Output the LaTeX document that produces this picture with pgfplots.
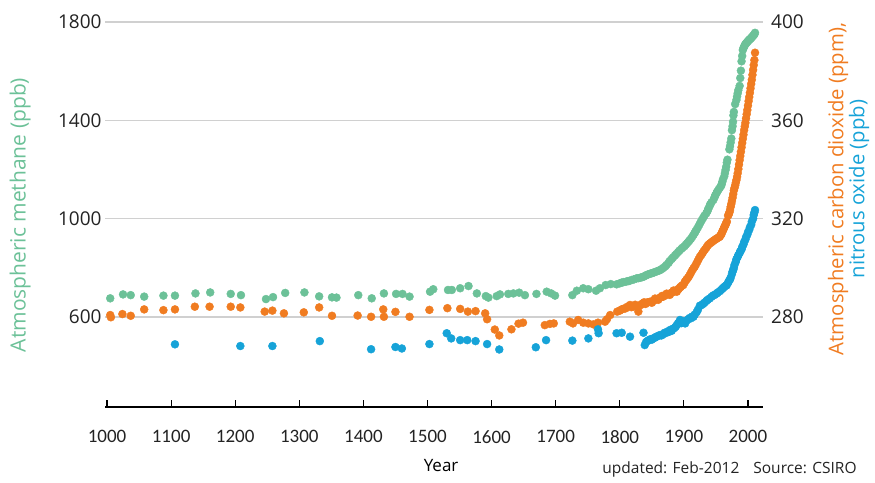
\documentclass[border=0pt]{standalone}
\usepackage{pgfplots}
\pgfplotsset{compat=1.18}
\usepackage{pgfplotstable}
\usepackage{fontspec}
\setmainfont{Open Sans}
\newfontfamily\tickfont{Carlito}

\definecolor{ch4}{RGB}{108,193,152}
\definecolor{co2}{RGB}{240,124,33}
\definecolor{n2o}{RGB}{22,163,216}
\definecolor{gridgray}{RGB}{208,208,208}
\definecolor{txt}{RGB}{35,35,35}

% Methane (ppb), left scale
\pgfplotstableread{
year val
1005 676
1025 692
1037 689
1058 683
1088 687
1106 687
1138 696
1161 700
1193 694
1209 689
1248 673
1259 681
1278 698
1308 700
1331 684
1351 680
1358 679
1392 689
1413 676
1432 696
1451 694
1461 694
1472 683
1504 703
1509 713
1532 710
1538 710
1551 717
1564 726
1577 696
1591 685
1595 679
1608 685
1613 692
1626 694
1634 696
1643 699
1652 689
1670 694
1686 703
1693 696
1699 687
1726 689
1733 707
1743 717
1751 713
1763 707
1769 717
1778 730
1786 734
1795 733
1800 737
1803 740
1806 742
1810 744
1813 746
1815 747
1819 751
1822 753
1826 757
1829 758
1832 760
1835 762
1837 764
1840 768
1842 771
1845 774
1847 776
1850 778
1852 780
1855 783
1858 786
1861 789
1863 791
1866 796
1868 800
1871 806
1873 812
1876 820
1878 828
1881 836
1883 842
1886 850
1888 856
1891 864
1893 870
1896 877
1898 882
1901 888
1903 894
1905 900
1907 906
1909 912
1911 918
1913 926
1915 934
1917 942
1918 948
1920 956
1922 965
1924 975
1926 985
1928 994
1930 1003
1932 1012
1935 1022
1937 1032
1938 1040
1940 1050
1941 1058
1943 1066
1946 1076
1948 1088
1949 1095
1951 1104
1952 1110
1954 1118
1956 1125
1958 1133
1959 1140
1960 1150
1961 1160
1963 1172
1964 1185
1965 1198
1966 1211
1967 1228
1968 1240
1971 1282
1972 1295
1973 1310
1974 1326
1975 1360
1976 1376
1976.7 1394
1977.3 1420
1978 1434
1980 1466
1982 1483
1983 1497
1984 1510
1985 1523
1987 1540
1988 1572
1989 1602
1990 1640
1991 1662
1992 1686
1993 1694
1994 1700
1995 1705
1996 1710
1997 1713
1998 1716
1999 1719
2000 1722
2001 1725
2002 1728
2003 1730
2004 1732
2005 1735
2006 1738
2007 1741
2008 1744
2009 1747
2010 1750
2011 1756
}\methane

% Carbon dioxide (ppm), right scale
\pgfplotstableread{
year val
1005 280.8
1006 279.9
1024 281.2
1037 280.5
1058 283.1
1088 282.8
1106 283.1
1137 284.2
1160 284.2
1193 284.2
1208 283.9
1246 282.2
1258 282.6
1276 281.5
1307 281.9
1331 283.9
1351 280.5
1391 280.6
1412 280.1
1431 283.1
1432 280.1
1450 282.1
1472 280.1
1503 282.9
1531 283.6
1551 283.3
1563 282.2
1575 282.4
1590 281.5
1593 279.1
1605 274.9
1612 272.5
1631 275.0
1642 277.3
1649 277.7
1683 276.7
1691 277.2
1697 277.4
1722 278.1
1727 277.4
1735 278.8
1743 277.7
1751 277.4
1759 277.0
1766 277.7
1777 278.1
1780 279.1
1785 280.8
1796 282.2
1800 282.6
1803 283.1
1806 283.4
1809 283.5
1812 284.2
1816 284.9
1818 284.0
1821 284.2
1824 285.0
1826 284.5
1829 282.2
1832 284.8
1834 285.2
1836 285.6
1838 286.0
1840 285.3
1842 285.8
1844 286.0
1847 286.2
1850 285.8
1852 286.5
1853 286.8
1855 287.5
1857 287.2
1860 287.0
1862 287.8
1864 288.0
1866 288.6
1868 288.3
1871 288.8
1873 289.5
1875 289.3
1878 289.0
1880 289.8
1882 290.0
1884 290.8
1886 290.5
1889 290.3
1891 291.2
1892 291.5
1894 292.0
1895 292.3
1897 292.8
1899 293.0
1901 294.0
1902 294.5
1904 295.2
1905 295.5
1907 296.2
1909 297.0
1911 298.0
1913 299.0
1915 299.8
1917 300.5
1919 301.5
1921 302.5
1923 303.5
1925 304.5
1927 305.2
1929 306.0
1931 306.8
1933 307.5
1935 308.2
1937 309.0
1939 309.6
1941 310.0
1943 310.4
1945 310.8
1947 311.2
1949 311.5
1951 311.9
1953 312.2
1955 312.5
1956 312.7
1957 313.2
1958 313.5
1959 314.0
1960 314.8
1961 315.2
1962 315.8
1963 316.5
1964 317.0
1965 317.5
1966 318.2
1967 318.8
1969 321.2
1970 321.8
1971 322.5
1972 323.5
1973 324.8
1974 326.0
1975 327.2
1976 328.5
1977 330.0
1978 331.5
1979 332.5
1980 333.5
1981 334.6
1982 335.7
1983 337.0
1984 338.5
1985 340.2
1986 342.0
1987 343.8
1988 345.5
1989 347.2
1990 349.0
1991 350.8
1992 352.5
1993 354.2
1994 356.0
1995 357.5
1996 359.0
1997 360.8
1998 362.5
1999 364.2
2000 366.0
2001 367.8
2002 369.5
2003 371.2
2004 373.0
2005 374.8
2006 376.5
2007 378.5
2008 380.5
2009 382.5
2010 384.5
2011 387.5
}\carbon

% Nitrous oxide (ppb), right scale
\pgfplotstableread{
year val
1106 268.9
1208 268.2
1258 268.2
1332 270.2
1412 266.9
1450 267.8
1460 267.2
1503 269.0
1530 273.4
1537 271.3
1551 270.6
1562 270.6
1575 270.2
1593 269.0
1612 266.8
1669 267.7
1685 270.6
1726 270.4
1751 271.3
1766 275.0
1767 273.4
1795 273.4
1803 273.6
1816 272.0
1837 273.6
1839 268.6
1841 269.8
1843 270.2
1845 270.6
1848 271.0
1850 270.8
1852 271.3
1855 271.6
1857 272.0
1860 272.3
1863 272.7
1865 272.5
1868 273.0
1870 273.6
1873 273.6
1875 274.2
1877 274.0
1879 274.8
1881 274.4
1883 275.2
1885 275.5
1887 276.0
1889 276.7
1891 277.5
1894 278.8
1896 277.5
1898 277.8
1900 278.2
1902 277.4
1904 278.5
1907 279.1
1909 279.6
1911 279.5
1913 280.2
1915 280.1
1917 281.0
1920 282.0
1922 283.0
1925 284.6
1927 284.8
1930 285.3
1932 285.8
1935 286.5
1937 287.0
1940 287.5
1943 288.2
1946 288.8
1948 289.0
1951 289.5
1953 290.0
1956 290.5
1958 291.0
1960 291.5
1962 292.0
1964 292.5
1966 292.8
1967 293.0
1969 294.0
1970 294.5
1972 295.3
1973 296.0
1975 297.5
1976 298.5
1977 299.2
1978 300.0
1979 301.2
1981 302.5
1982 303.5
1984 304.5
1985 305.2
1987 306.0
1988 306.8
1990 307.5
1991 308.5
1993 309.5
1994 310.5
1996 311.5
1997 312.5
1999 313.5
2000 314.5
2002 315.5
2003 316.5
2005 317.5
2006 318.8
2008 320.0
2009 321.5
2010 322.5
2011 323.5
}\nitrous

\pgfplotsset{
  gasframe/.style={
    at={(0,0)}, anchor=south west,
    scale only axis, width=657.6pt, height=385pt,
    xmin=997, xmax=2023,
    /pgf/number format/assume math mode=true,
    /pgf/number format/1000 sep={},
    yticklabel style={font=\fontsize{19}{19}\selectfont, text=txt},
  },
  dots/.style={only marks, mark=*, mark size=4pt, color=#1, fill=#1},
}

\begin{document}
\begin{tikzpicture}
\begin{axis}[
  gasframe,
  ymin=234, ymax=1800,
  axis x line=bottom, axis y line=left,
  x axis line style={-, black, line width=1.4pt},
  y axis line style={draw=none},
  xtick={1000,1100,...,2000},
  ytick={600,1000,1400,1800},
  xtick style={black, line width=1.2pt},
  ytick style={draw=none},
  major tick length=7pt, tick align=inside,
  ymajorgrids, grid style={gridgray, line width=1.3pt},
  xticklabel style={font=\tickfont\fontsize{19}{19}\selectfont, text=txt, yshift=-20pt},
  clip=false,
]
\addplot[dots=ch4] table[x=year, y=val] {\methane};
\end{axis}

\begin{axis}[
  gasframe,
  ymin=243.4, ymax=400,
  hide x axis,
  axis y line*=right,
  y axis line style={draw=none},
  ytick={280,320,360,400},
  ytick style={draw=none},
  yticklabel style={xshift=5pt},
  clip=false,
]
\addplot[dots=co2] table[x=year, y=val] {\carbon};
\addplot[dots=n2o] table[x=year, y=val] {\nitrous};
\end{axis}

\node[rotate=90, text=ch4, font=\fontsize{21}{21}\selectfont] at (-85pt,192pt) {Atmospheric methane (ppb)};
\node[rotate=90, align=center, font=\fontsize{20.3}{21}\selectfont] at (743.4pt,218pt)
  {\textcolor{co2}{Atmospheric carbon dioxide (ppm),}\\\textcolor{n2o}{nitrous oxide (ppb)}};
\node[font=\fontsize{17}{17}\selectfont, text=black] at (336pt,-59pt) {Year};
\node[anchor=east, font=\fontsize{15.5}{15.5}\selectfont, text=txt] at (755pt,-62pt)
  {updated: Feb-2012\hspace{14pt}Source: CSIRO};

\pgfresetboundingbox
\path[use as bounding box] (-105.1pt,-75pt) rectangle (769.9pt,407pt);
\end{tikzpicture}
\end{document}
